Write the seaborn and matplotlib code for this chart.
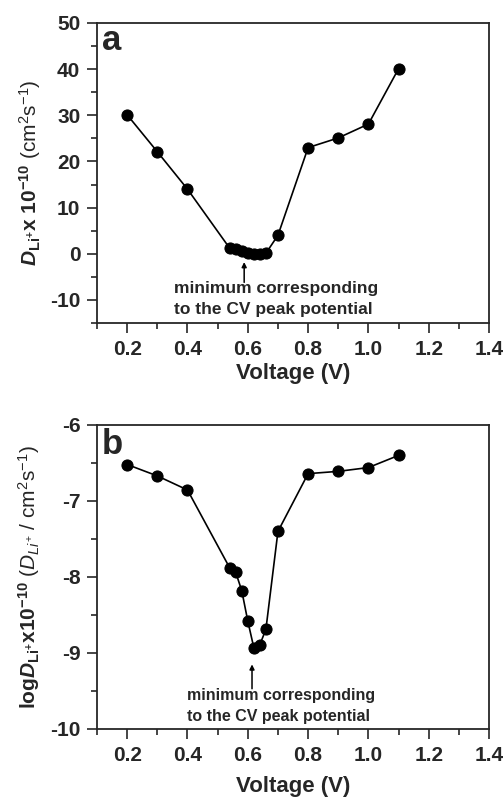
import matplotlib
matplotlib.use("Agg")
import matplotlib.pyplot as plt
from matplotlib.ticker import MultipleLocator
import seaborn as sns
import pandas as pd

voltage = [0.2, 0.3, 0.4, 0.54, 0.56, 0.58, 0.60, 0.62, 0.64, 0.66, 0.7, 0.8, 0.9, 1.0, 1.1]
d_li = [30.1, 22.1, 14.0, 1.2, 1.0, 0.7, 0.1, 0.0, 0.0, 0.1, 4.0, 23.0, 25.1, 28.1, 40.1]
log_d_li = [-6.52, -6.67, -6.855, -7.88, -7.94, -8.18, -8.58, -8.93, -8.89, -8.69, -7.40, -6.64, -6.61, -6.56, -6.40]

xticks = [0.2, 0.4, 0.6, 0.8, 1.0, 1.2, 1.4]
yticks_a = [-10, 0, 10, 20, 30, 40, 50]
yticks_b = [-10, -9, -8, -7, -6]
annot = "minimum corresponding\nto the CV peak potential"

sns.set_style("ticks")
plt.rcParams["font.family"] = ["Liberation Sans", "DejaVu Sans"]
plt.rcParams["mathtext.fontset"] = "custom"
plt.rcParams["mathtext.rm"] = "Liberation Sans"
plt.rcParams["mathtext.it"] = "Liberation Sans:italic"
plt.rcParams["mathtext.bf"] = "Liberation Sans:bold"
plt.rcParams["mathtext.bfit"] = "Liberation Sans:bold:italic"

df = pd.DataFrame({"V": voltage, "D": d_li, "logD": log_d_li})

fig = plt.figure(figsize=(5.04, 8), dpi=100)
ax1 = fig.add_axes([0.1925, 0.59625, 0.7778, 0.375])
ax2 = fig.add_axes([0.1925, 0.08875, 0.7778, 0.38])

for ax, col in ((ax1, "D"), (ax2, "logD")):
    sns.lineplot(data=df, x="V", y=col, ax=ax, sort=False, color="black",
                 linewidth=1.2, marker="o", markersize=8,
                 markeredgecolor="black", markerfacecolor="black")
    ax.set_xlim(0.1, 1.4)
    ax.set_xticks(xticks)
    ax.set_xticklabels([f"{t:.1f}" for t in xticks])
    ax.xaxis.set_minor_locator(MultipleLocator(0.1))
    for s in ax.spines.values():
        s.set_linewidth(1.3)
        s.set_visible(True)
    ax.tick_params(which="major", direction="out", length=7, width=1.2,
                   labelsize=15, pad=5)
    ax.tick_params(which="minor", direction="out", length=4, width=1.2)

ax1.set_ylim(-15, 50)
ax1.set_yticks(yticks_a)
ax1.set_yticklabels([str(t) for t in yticks_a])
ax1.yaxis.set_minor_locator(MultipleLocator(5))
ax1.set_xlabel("Voltage (V)", fontsize=16, fontweight="bold", labelpad=3)
ax1.set_ylabel(r"$\mathbfit{D}_{\mathbf{Li^{+}}}\mathbf{x\ 10^{-10}}$ (cm$^{2}$s$^{-1}$)",
               fontsize=15, labelpad=5)
ax1.text(0.115, 46.3, "a", fontsize=25, fontweight="bold", ha="left", va="center")
ax1.annotate("", xy=(0.588, -1.8), xytext=(0.588, -6.2),
             arrowprops=dict(arrowstyle="-|>", color="black", lw=1.1,
                             mutation_scale=7, shrinkA=0, shrinkB=0))
ax1.text(0.355, -9.8, annot, fontsize=12.5, fontweight="bold", ha="left",
         va="center", linespacing=1.45)

ax2.set_ylim(-10, -6)
ax2.set_yticks(yticks_b)
ax2.set_yticklabels([str(t) for t in yticks_b])
ax2.yaxis.set_minor_locator(MultipleLocator(0.5))
ax2.set_xlabel("Voltage (V)", fontsize=16, fontweight="bold", labelpad=8)
ax2.set_ylabel(r"$\mathbf{log}\mathbfit{D}_{\mathbf{Li^{+}}}\mathbf{x10^{-10}}$ ($\mathit{D}_{Li^{+}}$ / cm$^{2}$s$^{-1}$)",
               fontsize=15, labelpad=6)
ax2.text(0.115, -6.25, "b", fontsize=25, fontweight="bold", ha="left", va="center")
ax2.annotate("", xy=(0.614, -9.15), xytext=(0.614, -9.47),
             arrowprops=dict(arrowstyle="-|>", color="black", lw=1.1,
                             mutation_scale=7, shrinkA=0, shrinkB=0))
ax2.text(0.400, -9.7, annot, fontsize=11.5, fontweight="bold", ha="left",
         va="center", linespacing=1.45)

for ax in (ax1, ax2):
    for lab in ax.get_xticklabels() + ax.get_yticklabels():
        lab.set_fontweight("bold")

fig.savefig("out.png", dpi=100)
